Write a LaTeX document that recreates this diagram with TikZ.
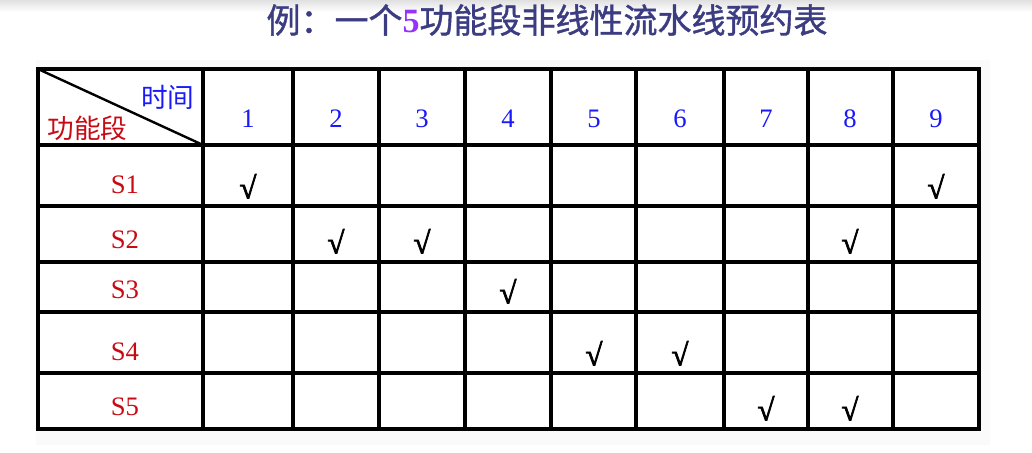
\documentclass[tikz,border=0pt]{standalone}
\usepackage{fontspec}
\setmainfont{Liberation Serif}
\newfontfamily\cjk{Noto Sans CJK SC}
\newfontfamily\cjkbold{Noto Sans CJK SC}[FakeBold=1.2]
\newfontfamily\tickfont{Liberation Serif}[FakeBold=2.5]
\definecolor{title_blue}{RGB}{60,60,130}
\definecolor{five_purple}{RGB}{150,50,250}
\definecolor{time_blue}{RGB}{25,25,250}
\definecolor{stage_red}{RGB}{200,10,20}

\begin{document}
\begin{tikzpicture}[x=0.75pt,y=-0.75pt,line width=2.3pt,line cap=rect]
    \tikzstyle{num}=[text=time_blue, inner sep=0pt, font=\fontsize{20}{20}\selectfont]
    \tikzstyle{stage}=[text=stage_red, inner sep=0pt, font=\fontsize{20}{20}\selectfont]
    \tikzstyle{head}=[inner sep=0pt, font=\cjk\fontsize{20}{20}\selectfont]
    \tikzstyle{tick}=[text=black, inner sep=0pt, font=\tickfont\fontsize{23}{23}\selectfont]

    \useasboundingbox (0,0) rectangle (1032,453);
    \fill[top color=black!12, bottom color=white] (0,0) rectangle (1032,12);
    \fill[black!2] (36,60) rectangle (990,445);
    \fill[white] (38,69) rectangle (979,429);

    % title
    \node[text=title_blue, inner sep=0pt, font=\cjkbold\fontsize{25.5}{25.5}\selectfont] (title) at (547,20)
      {例：一个{\color{five_purple}\fontspec{Liberation Serif}\bfseries 5}功能段非线性流水线预约表};

    % grid
    \coordinate (nw) at (38,69);
    \coordinate (hd) at (203,145);
    \foreach \x in {203,293,379,465,551,636,724,808,893}
      \draw (\x,69) -- (\x,429);
    \foreach \y in {145,206,262,312,373}
      \draw (38,\y) -- (979,\y);
    \draw (38,69) rectangle (979,429);
    \draw[line width=1.8pt, line cap=round] (nw) -- (hd);

    % header
    \node[head, text=time_blue, anchor=east] (time) at (196,97) {时间};
    \node[head, text=stage_red, anchor=west] (stg) at (46,128) {功能段};
    \foreach \t/\x in {1/248,2/336,3/422,4/508,5/594,6/680,7/766,8/850,9/936}
      \node[num] (t\t) at (\x,119) {\t};

    % stages
    \foreach \s/\y in {1/185,2/240,3/290,4/352,5/407}
      \node[stage] (s\s) at (125,\y) {S\s};

    % reservations
    \foreach \s/\t in {1/1,1/9,2/2,2/3,2/8,3/4,4/5,4/6,5/7,5/8}
      \node[tick] (c\s\t) at ([yshift=-1pt]t\t |- s\s) {√};
\end{tikzpicture}
\end{document}
